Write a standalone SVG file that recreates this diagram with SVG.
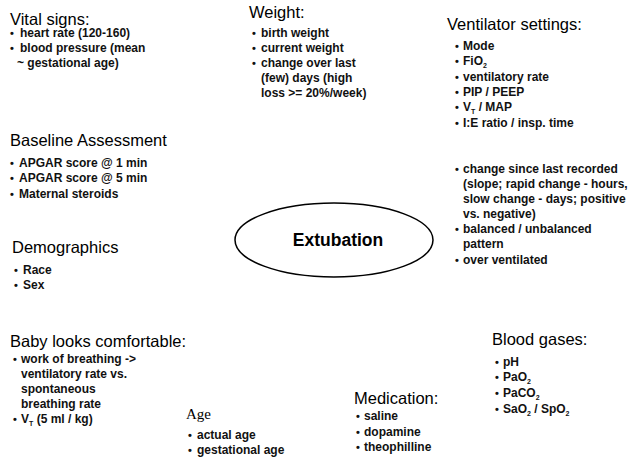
<svg xmlns="http://www.w3.org/2000/svg" width="637" height="459" viewBox="0 0 637 459">
<style>
.h{font-family:"Liberation Sans",Arial,sans-serif;font-size:16.5px;fill:#000}
.b{font-family:"Liberation Sans",Arial,sans-serif;font-size:12px;font-weight:bold;fill:#111}
.d{font-family:"Liberation Sans",Arial,sans-serif;font-size:11px;font-weight:bold;fill:#111}
.s{font-size:7px}
.serif{font-family:"Liberation Serif","Times New Roman",serif;font-size:15px;fill:#000}
</style>
<rect width="637" height="459" fill="#fff"/>
<g id="connectors"></g>
<g id="vital-signs">
<text class="h" x="10" y="25">Vital signs:</text>
<text class="d" x="10" y="37">•</text><text class="b" x="20" y="37">heart rate (120-160)</text>
<text class="d" x="10" y="52">•</text><text class="b" x="20" y="52">blood pressure (mean</text>
<text class="b" x="17" y="67">~ gestational age)</text>
</g>
<g id="weight">
<text class="h" x="249" y="18">Weight:</text>
<text class="d" x="252" y="37">•</text><text class="b" x="261" y="37">birth weight</text>
<text class="d" x="252" y="52">•</text><text class="b" x="261" y="52">current  weight</text>
<text class="d" x="252" y="67">•</text><text class="b" x="261" y="67">change over last</text>
<text class="b" x="261" y="82">(few) days (high</text>
<text class="b" x="261" y="97">loss &gt;= 20%/week)</text>
</g>
<g id="ventilator-settings">
<text class="h" x="447" y="30">Ventilator settings:</text>
<text class="d" x="455" y="50">•</text><text class="b" x="463" y="50">Mode</text>
<text class="d" x="455" y="65">•</text><text class="b" x="463" y="65">FiO<tspan class="s" dy="3">2</tspan></text>
<text class="d" x="455" y="81">•</text><text class="b" x="463" y="81">ventilatory rate</text>
<text class="d" x="455" y="96">•</text><text class="b" x="463" y="96">PIP / PEEP</text>
<text class="d" x="455" y="111">•</text><text class="b" x="463" y="111">V<tspan class="s" dy="3">T</tspan><tspan dy="-3"> / MAP</tspan></text>
<text class="d" x="455" y="127">•</text><text class="b" x="463" y="127">I:E ratio / insp. time</text>
</g>
<g id="baseline-assessment">
<text class="h" x="10" y="146">Baseline Assessment</text>
<text class="d" x="10" y="167">•</text><text class="b" x="19" y="167">APGAR score @ 1 min</text>
<text class="d" x="10" y="182">•</text><text class="b" x="19" y="182">APGAR score @ 5 min</text>
<text class="d" x="10" y="198">•</text><text class="b" x="19" y="198">Maternal steroids</text>
</g>
<g id="demographics">
<text class="h" x="12" y="253">Demographics</text>
<text class="d" x="14" y="274">•</text><text class="b" x="23" y="274">Race</text>
<text class="d" x="14" y="289">•</text><text class="b" x="23" y="289">Sex</text>
</g>
<g id="extubation">
<ellipse cx="334" cy="240" rx="99" ry="37" fill="none" stroke="#000" stroke-width="1.5"/>
<text x="338" y="246" text-anchor="middle" font-family="Liberation Sans,Arial,sans-serif" font-size="17.5" font-weight="bold">Extubation</text>
</g>
<g id="trends">
<text class="d" x="455" y="173">•</text><text class="b" x="463" y="173">change since last recorded</text>
<text class="b" x="463" y="188">(slope; rapid change - hours,</text>
<text class="b" x="463" y="203">slow  change - days; positive</text>
<text class="b" x="463" y="218">vs. negative)</text>
<text class="d" x="455" y="233">•</text><text class="b" x="463" y="233">balanced / unbalanced</text>
<text class="b" x="463" y="248">pattern</text>
<text class="d" x="455" y="264">•</text><text class="b" x="463" y="264">over ventilated</text>
</g>
<g id="baby-looks-comfortable">
<text class="h" x="10" y="347">Baby looks comfortable:</text>
<text class="d" x="13" y="363">•</text><text class="b" x="21" y="363">work of breathing -&gt;</text>
<text class="b" x="21" y="378">ventilatory rate vs.</text>
<text class="b" x="21" y="393">spontaneous</text>
<text class="b" x="21" y="408">breathing rate</text>
<text class="d" x="13" y="423">•</text><text class="b" x="21" y="423">V<tspan class="s" dy="3">T</tspan><tspan dy="-3"> (5 ml / kg)</tspan></text>
</g>
<g id="age">
<text class="serif" x="186" y="419">Age</text>
<text class="d" x="188" y="439">•</text><text class="b" x="197" y="439">actual age</text>
<text class="d" x="188" y="454">•</text><text class="b" x="197" y="454">gestational age</text>
</g>
<g id="medication">
<text class="h" x="354" y="404">Medication:</text>
<text class="d" x="356" y="420">•</text><text class="b" x="364" y="420">saline</text>
<text class="d" x="356" y="436">•</text><text class="b" x="364" y="436">dopamine</text>
<text class="d" x="356" y="451">•</text><text class="b" x="364" y="451">theophilline</text>
</g>
<g id="blood-gases">
<text class="h" x="492" y="345">Blood gases:</text>
<text class="d" x="495" y="366">•</text><text class="b" x="503" y="366">pH</text>
<text class="d" x="495" y="381">•</text><text class="b" x="503" y="381">PaO<tspan class="s" dy="3">2</tspan></text>
<text class="d" x="495" y="397">•</text><text class="b" x="503" y="397">PaCO<tspan class="s" dy="3">2</tspan></text>
<text class="d" x="495" y="413">•</text><text class="b" x="503" y="413">SaO<tspan class="s" dy="3">2</tspan><tspan dy="-3"> / SpO</tspan><tspan class="s" dy="3">2</tspan></text>
</g>
</svg>
